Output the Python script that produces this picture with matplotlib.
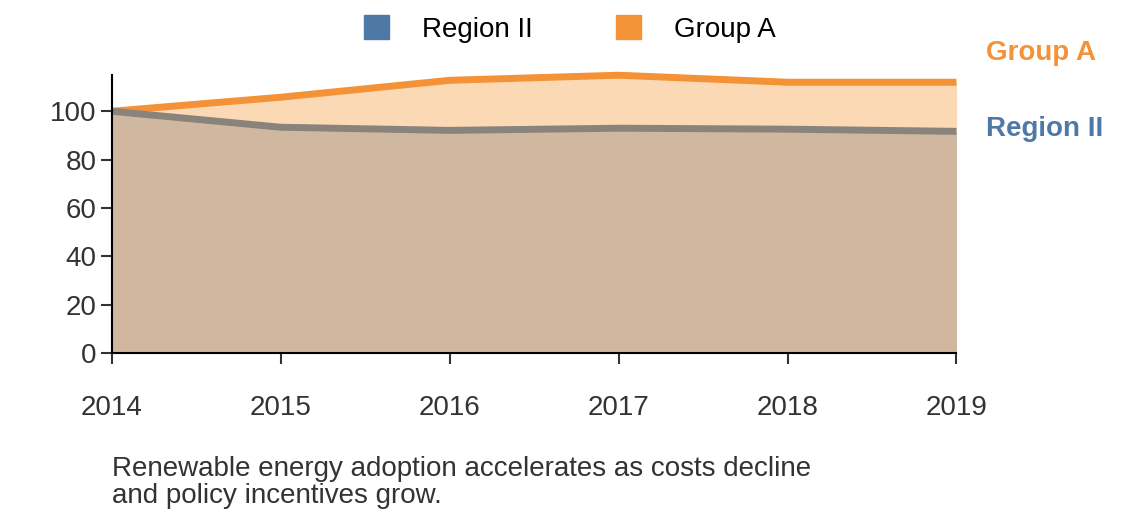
import matplotlib
matplotlib.use("Agg")
import matplotlib.pyplot as plt
from matplotlib.patches import Patch

years = [2014, 2015, 2016, 2017, 2018, 2019]
region_ii = [100, 93.4, 92.1, 93.0, 92.6, 91.7]
group_a = [100, 105.8, 112.8, 114.9, 112.0, 112.0]
caption = "Renewable energy adoption accelerates as costs decline\nand policy incentives grow."

ORANGE = "#f39237"
BLUE = "#4e79a7"

plt.rcParams["font.family"] = ["Liberation Sans", "DejaVu Sans"]
fig = plt.figure(figsize=(11.4, 5.28), dpi=100)
ax = fig.add_axes([0.098, 0.331, 0.741, 0.527])

ax.fill_between(years, 0, group_a, color="#fbd9b5", lw=0)
ax.fill_between(years, 0, region_ii, color="#d0b8a0", lw=0)
ax.plot(years, group_a, color=ORANGE, lw=5, solid_capstyle="butt", clip_on=False)
ax.plot(years, region_ii, color="#8a837c", lw=5, solid_capstyle="butt", clip_on=False)

ax.set_xlim(2014, 2019)
ax.set_ylim(0, 115)
ax.set_yticks([0, 20, 40, 60, 80, 100])
ax.set_xticks(years)
for s in ["top", "right"]:
    ax.spines[s].set_visible(False)
for s in ["left", "bottom"]:
    ax.spines[s].set_linewidth(1.5)
ax.tick_params(axis="both", labelsize=20, length=8, width=1.5, color="#333333",
               labelcolor="#333333")
ax.tick_params(axis="x", pad=22)
ax.tick_params(axis="y", pad=3)

ax.text(1.035, (group_a[-1] + 12) / 115, "Group A", transform=ax.transAxes,
        color=ORANGE, fontsize=20, fontweight="bold", va="center", ha="left")
ax.text(1.035, (region_ii[-1] + 1) / 115, "Region II", transform=ax.transAxes,
        color=BLUE, fontsize=20, fontweight="bold", va="center", ha="left")

handles = [Patch(color=BLUE, label="Region II"), Patch(color=ORANGE, label="Group A")]
fig.legend(handles=handles, loc="center", bbox_to_anchor=(0.5, 0.945), ncol=2,
           frameon=False, fontsize=20, handlelength=0.9, handleheight=0.9,
           columnspacing=3, handletextpad=1.2)

fig.text(0.098, 0.087, caption, fontsize=20, color="#333333", va="center",
         linespacing=1.05)

fig.savefig("out.png", dpi=100)
